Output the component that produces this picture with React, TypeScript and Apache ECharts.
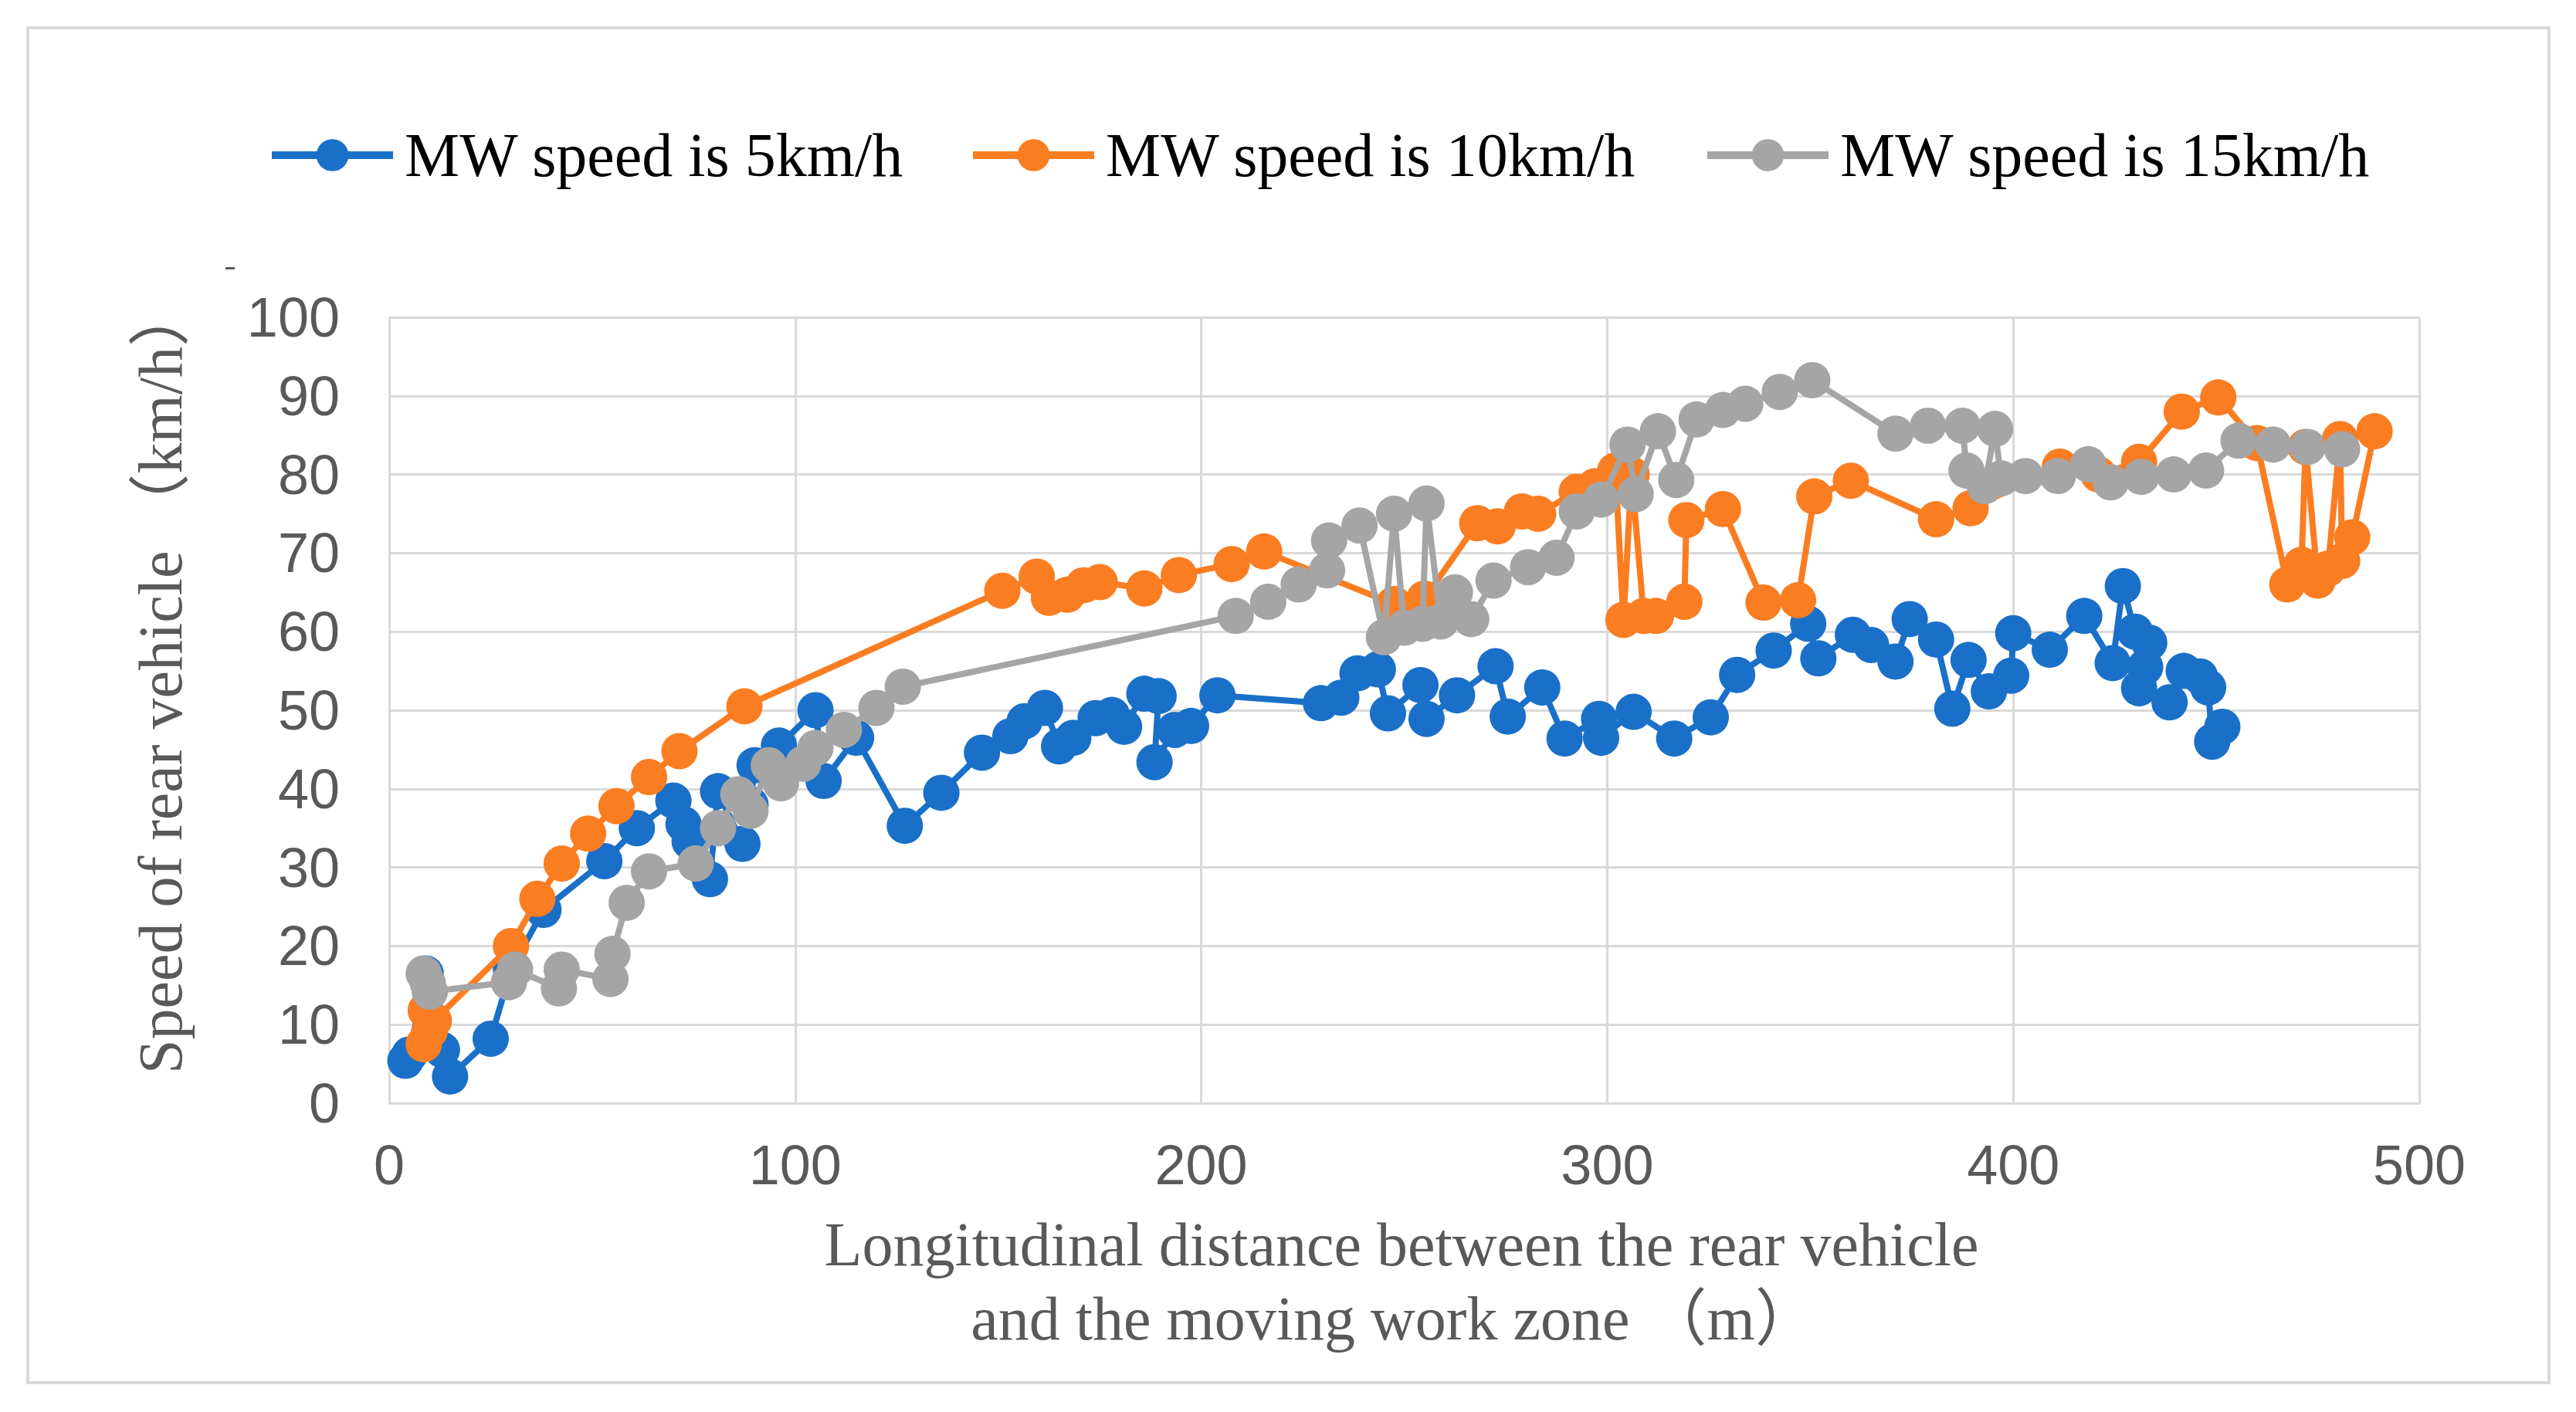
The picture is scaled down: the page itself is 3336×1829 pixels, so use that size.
import React, { useEffect, useRef } from "react";
import * as echarts from "echarts";

const seriesNames = ["MW speed is 5km/h", "MW speed is 10km/h", "MW speed is 15km/h"];
const seriesColors = ["#1a70c8", "#fa7d22", "#a5a5a5"];
const yTitle = "Speed of rear vehicle （km/h）";
const xTitleLines = ["Longitudinal distance between the rear vehicle", "and the moving work zone （m）"];

// MW speed 5 km/h
const speed5: [number, number][] = [
  [4, 5.4], [5, 6.2], [9, 16.5], [13, 6.8], [15, 3.4], [25, 8.2], [30, 17], [38, 24.6],
  [53, 30.8], [61, 35], [70, 38.5], [72.5, 35.5], [74, 33.3], [79, 28.5], [81, 39.7],
  [87, 33], [89, 38], [90, 43], [96, 45.5], [105, 50], [107, 41], [115, 46.5], [127, 35.3],
  [136, 39.5], [146, 44.6], [153, 46.7], [156.5, 48.6], [161.5, 50.3], [165, 45.4],
  [168.5, 46.5], [174, 49], [178, 49.4], [181, 47.9], [186, 52.1], [189.5, 51.8],
  [188.5, 43.4], [193.5, 47.5], [197.5, 48], [204, 51.9], [229.5, 50.9], [234.5, 51.6],
  [238.5, 54.7], [243.5, 55.2], [246, 49.6], [254, 53.2], [255.5, 48.9], [263, 51.9],
  [272.5, 55.6], [275.5, 49.2], [284, 52.9], [289.5, 46.4], [298, 48.9], [298.5, 46.5],
  [306.5, 49.8], [316.5, 46.4], [325.5, 49.1], [332, 54.5], [341, 57.6], [349.5, 61],
  [352, 56.6], [360.5, 59.6], [365, 58.3], [371, 56.2], [374.5, 61.6], [381, 59],
  [385, 50.2], [389, 56.4], [394, 52.4], [399.5, 54.4], [400, 59.8], [409, 57.7],
  [417.5, 62], [424.5, 56], [427, 65.8], [430, 60], [433.5, 58.6], [432.5, 55.5],
  [431, 52.8], [438.5, 51], [442, 55], [446, 54.3], [448, 52.9], [449, 46], [451.5, 47.9],
];

// MW speed 10 km/h
const speed10: [number, number][] = [
  [8.5, 7.5], [9, 11.8], [10, 9.2], [11, 10.5], [30, 20], [36.5, 26], [42.5, 30.5],
  [49, 34.3], [56, 37.8], [64, 41.5], [71.5, 44.8], [87.5, 50.5], [151, 65.2],
  [159.5, 67], [162.5, 64.3], [167, 64.7], [171, 65.9], [175, 66.3], [186, 65.5],
  [194.5, 67.2], [207.5, 68.6], [215.5, 70.2], [247.5, 63.5], [255, 64.2], [268, 73.8],
  [273, 73.4], [279, 75.3], [283, 75], [292.5, 77.8], [297, 78.5], [302, 80.5],
  [304, 61.5], [306, 80], [309, 62], [312, 62], [319, 63.8], [319.5, 74.2], [328.5, 75.6],
  [338.5, 63.7], [347, 64], [351, 77.2], [360, 79.2], [381, 74.3], [389.5, 75.7],
  [411.5, 81], [421, 80], [431, 81.6], [441.5, 88], [450.5, 89.8], [460, 84],
  [467.5, 66], [471, 68.5], [472, 83.5], [475, 66.5], [477.5, 68], [480.5, 84.5],
  [481, 69], [483.5, 72], [489, 85.5],
];

// MW speed 15 km/h
const speed15: [number, number][] = [
  [8.5, 16.5], [9.5, 15.3], [10, 14.2], [29.5, 15.4], [31, 17], [41.8, 14.6], [42.5, 17],
  [54.5, 15.8], [55, 19], [58.5, 25.5], [64, 29.5], [75.5, 30.5], [81, 35], [86, 39.3],
  [89, 37.2], [93.5, 43], [96.5, 40.7], [102, 43.2], [105, 45.2], [112, 47.5],
  [120, 50.3], [126.5, 53], [208.5, 62], [216.5, 63.8], [224, 66], [231, 67.8],
  [231.5, 71.6], [239, 73.5], [245, 59.3], [247.5, 75], [250, 60.5], [254.5, 61],
  [255.5, 76.3], [259, 61.3], [262.5, 65], [266.5, 61.6], [272, 66.5], [280.5, 68.2],
  [287.5, 69.4], [292.5, 75.3], [298.5, 76.8], [305, 83.8], [307, 77.5], [312.5, 85.5],
  [317, 79.3], [322, 87], [328.5, 88.2], [334, 89], [342.5, 90.5], [350.5, 92],
  [371, 85.2], [379, 86.2], [387.5, 86.2], [388.5, 80.5], [393, 78.5], [395.5, 85.8],
  [397, 79.5], [403, 79.8], [411, 79.8], [418.5, 81.3], [424, 79], [431.5, 79.7],
  [439.5, 80], [447.5, 80.5], [455.5, 84.3], [464, 83.8], [472.5, 83.5], [481, 83.2],
];

const seriesData = [speed5, speed10, speed15];
const legendLefts = [347, 1255, 2206];

const xMin = 0, xMax = 500, xStep = 100;
const yMin = 0, yMax = 100, yStep = 10;

const SERIF = "'Liberation Serif', 'Times New Roman', 'Noto Sans CJK SC', serif";
const SANS = "'Liberation Sans', Arial, sans-serif";
const GRID_COLOR = "#d9d9d9";
const TEXT_GRAY = "#595959";

export default function App() {
  const ref = useRef<HTMLDivElement>(null);

  useEffect(() => {
    if (!ref.current) return;
    const chart = echarts.init(ref.current, undefined, { renderer: "svg" });
    chart.setOption({
      animation: false,
      backgroundColor: "#ffffff",
      grid: { left: 504, right: 203, top: 411, bottom: 400, containLabel: false },
      legend: seriesNames.map((name, i) => ({
        data: [name],
        left: legendLefts[i],
        top: 161,
        padding: 0,
        itemWidth: 157,
        itemHeight: 52,
        lineStyle: { width: 10 },
        textStyle: {
          fontFamily: SERIF,
          fontSize: 80,
          color: "#000000",
          lineHeight: 52,
          padding: [0, 0, 0, 10],
        },
      })),
      xAxis: {
        type: "value",
        min: xMin,
        max: xMax,
        interval: xStep,
        axisLine: { show: true, lineStyle: { color: GRID_COLOR, width: 3 } },
        axisTick: { show: false },
        splitLine: { show: true, lineStyle: { color: GRID_COLOR, width: 3 } },
        axisLabel: { margin: 44, fontSize: 72, color: TEXT_GRAY, fontFamily: SANS },
      },
      yAxis: {
        type: "value",
        min: yMin,
        max: yMax,
        interval: yStep,
        axisLine: { show: true, lineStyle: { color: GRID_COLOR, width: 3 } },
        axisTick: { show: false },
        splitLine: { show: true, lineStyle: { color: GRID_COLOR, width: 3 } },
        axisLabel: { margin: 64, fontSize: 72, color: TEXT_GRAY, fontFamily: SANS },
      },
      series: seriesData.map((data, i) => ({
        name: seriesNames[i],
        type: "line",
        data,
        symbol: "circle",
        symbolSize: 47,
        showSymbol: true,
        showAllSymbol: true,
        lineStyle: { color: seriesColors[i], width: 8 },
        itemStyle: { color: seriesColors[i] },
        z: 2 + i,
      })),
      graphic: [
        {
          type: "rect",
          shape: { x: 36, y: 36, width: 3265, height: 1755 },
          style: { fill: "none", stroke: GRID_COLOR, lineWidth: 4 },
          silent: true,
        },
        {
          type: "rect",
          shape: { x: 292, y: 346, width: 12, height: 3 },
          style: { fill: TEXT_GRAY },
          silent: true,
        },
        {
          type: "text",
          x: 208,
          y: 880,
          rotation: Math.PI / 2,
          style: {
            text: yTitle,
            fontFamily: SERIF,
            fontSize: 80,
            fill: TEXT_GRAY,
            textAlign: "center",
            textVerticalAlign: "middle",
          },
          silent: true,
        },
        {
          type: "text",
          x: 1815,
          y: 1612,
          style: {
            text: xTitleLines[0],
            fontFamily: SERIF,
            fontSize: 80,
            fill: TEXT_GRAY,
            textAlign: "center",
            textVerticalAlign: "middle",
          },
          silent: true,
        },
        {
          type: "text",
          x: 1805,
          y: 1708,
          style: {
            text: xTitleLines[1],
            fontFamily: SERIF,
            fontSize: 80,
            fill: TEXT_GRAY,
            textAlign: "center",
            textVerticalAlign: "middle",
          },
          silent: true,
        },
      ],
    });
    return () => chart.dispose();
  }, []);

  return (
    <div
      ref={ref}
      style={{ position: "fixed", left: 0, top: 0, width: 3336, height: 1829, background: "#ffffff" }}
    />
  );
}
